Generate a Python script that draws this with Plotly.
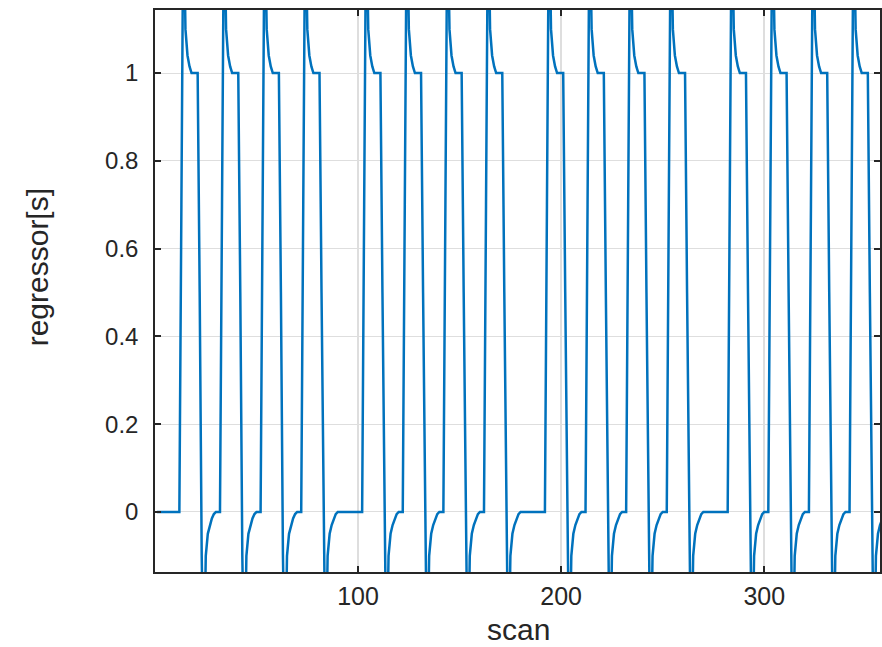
import plotly.graph_objects as go

# scan index (1..360)
scans = list(range(1, 361))

# regressor value per scan
regressor = (
    [0, 0, 0, 0, 0, 0, 0, 0, 0, 0, 0]
    # group 1 (onsets 12, 32, 52, 72)
    + [0, 0.7, 1.4, 1.1, 1.04, 1.015, 1, 1, 1, 1, 0.5, -0.1, -0.4, -0.1, -0.05, -0.03, -0.015, -0.005, 0, 0]
    + [0, 0.7, 1.4, 1.1, 1.04, 1.015, 1, 1, 1, 1, 0.5, -0.1, -0.4, -0.1, -0.05, -0.03, -0.015, -0.005, 0, 0]
    + [0, 0.7, 1.4, 1.1, 1.04, 1.015, 1, 1, 1, 1, 0.5, -0.1, -0.4, -0.1, -0.05, -0.03, -0.015, -0.005, 0, 0]
    + [0, 0.7, 1.4, 1.1, 1.04, 1.015, 1, 1, 1, 1, 0.5, -0.1, -0.4, -0.1, -0.05, -0.03, -0.015, -0.005, 0, 0]
    + [0, 0, 0, 0, 0, 0, 0, 0, 0, 0]
    # group 2 (onsets 102, 122, 142, 162)
    + [0, 0.7, 1.4, 1.1, 1.04, 1.015, 1, 1, 1, 1, 0.5, -0.1, -0.4, -0.1, -0.05, -0.03, -0.015, -0.005, 0, 0]
    + [0, 0.7, 1.4, 1.1, 1.04, 1.015, 1, 1, 1, 1, 0.5, -0.1, -0.4, -0.1, -0.05, -0.03, -0.015, -0.005, 0, 0]
    + [0, 0.7, 1.4, 1.1, 1.04, 1.015, 1, 1, 1, 1, 0.5, -0.1, -0.4, -0.1, -0.05, -0.03, -0.015, -0.005, 0, 0]
    + [0, 0.7, 1.4, 1.1, 1.04, 1.015, 1, 1, 1, 1, 0.5, -0.1, -0.4, -0.1, -0.05, -0.03, -0.015, -0.005, 0, 0]
    + [0, 0, 0, 0, 0, 0, 0, 0, 0, 0]
    # group 3 (onsets 192, 212, 232, 252)
    + [0, 0.7, 1.4, 1.1, 1.04, 1.015, 1, 1, 1, 1, 0.5, -0.1, -0.4, -0.1, -0.05, -0.03, -0.015, -0.005, 0, 0]
    + [0, 0.7, 1.4, 1.1, 1.04, 1.015, 1, 1, 1, 1, 0.5, -0.1, -0.4, -0.1, -0.05, -0.03, -0.015, -0.005, 0, 0]
    + [0, 0.7, 1.4, 1.1, 1.04, 1.015, 1, 1, 1, 1, 0.5, -0.1, -0.4, -0.1, -0.05, -0.03, -0.015, -0.005, 0, 0]
    + [0, 0.7, 1.4, 1.1, 1.04, 1.015, 1, 1, 1, 1, 0.5, -0.1, -0.4, -0.1, -0.05, -0.03, -0.015, -0.005, 0, 0]
    + [0, 0, 0, 0, 0, 0, 0, 0, 0, 0]
    # group 4 (onsets 282, 302, 322, 342)
    + [0, 0.7, 1.4, 1.1, 1.04, 1.015, 1, 1, 1, 1, 0.5, -0.1, -0.4, -0.1, -0.05, -0.03, -0.015, -0.005, 0, 0]
    + [0, 0.7, 1.4, 1.1, 1.04, 1.015, 1, 1, 1, 1, 0.5, -0.1, -0.4, -0.1, -0.05, -0.03, -0.015, -0.005, 0, 0]
    + [0, 0.7, 1.4, 1.1, 1.04, 1.015, 1, 1, 1, 1, 0.5, -0.1, -0.4, -0.1, -0.05, -0.03, -0.015, -0.005, 0, 0]
    + [0, 0.7, 1.4, 1.1, 1.04, 1.015, 1, 1, 1, 1, 0.5, -0.1, -0.4, -0.1, -0.05, -0.03, -0.015, -0.005, 0]
)

x_tickvals = [100, 200, 300]
x_ticktext = ["100", "200", "300"]
y_tickvals = [0, 0.2, 0.4, 0.6, 0.8, 1]
y_ticktext = ["0", "0.2", "0.4", "0.6", "0.8", "1"]

AX = "#262626"
GRID = "#dedede"
FONT = "Liberation Sans, Arial, Helvetica, sans-serif"

fig = go.Figure()
fig.add_trace(go.Scatter(
    x=scans, y=regressor, mode="lines",
    line=dict(color="#0072BD", width=2.5),
    showlegend=False, hoverinfo="skip",
))

fig.update_layout(
    width=882, height=647,
    margin=dict(l=155, r=0, t=10, b=75, pad=0),
    paper_bgcolor="white", plot_bgcolor="white",
    font=dict(family=FONT, color=AX),
    xaxis=dict(
        range=[0, 357], tickvals=x_tickvals, ticktext=x_ticktext,
        ticks="inside", ticklen=6, tickwidth=1.5, tickcolor=AX,
        showline=True, linecolor=AX, linewidth=1.5, mirror="ticks",
        showgrid=True, gridcolor=GRID, gridwidth=1.5, zeroline=False,
        tickfont=dict(size=25, color=AX), ticklabelstandoff=1,
    ),
    yaxis=dict(
        range=[-0.137, 1.1436], tickvals=y_tickvals, ticktext=y_ticktext,
        ticks="inside", ticklen=6, tickwidth=1.5, tickcolor=AX,
        showline=True, linecolor=AX, linewidth=1.5, mirror="ticks",
        showgrid=True, gridcolor=GRID, gridwidth=1, zeroline=False,
        tickfont=dict(size=24, color=AX), ticklabelstandoff=10,
    ),
    annotations=[
        dict(text="scan", xref="paper", yref="paper", x=0.502, y=-0.103,
             xanchor="center", yanchor="middle", showarrow=False,
             font=dict(size=30, color=AX, family=FONT)),
        dict(text="regressor[s]", xref="paper", yref="paper", x=-0.1623, y=0.5427,
             xanchor="center", yanchor="middle", showarrow=False, textangle=-90,
             font=dict(size=30, color=AX, family=FONT)),
    ],
)

fig.write_html("out.html")
